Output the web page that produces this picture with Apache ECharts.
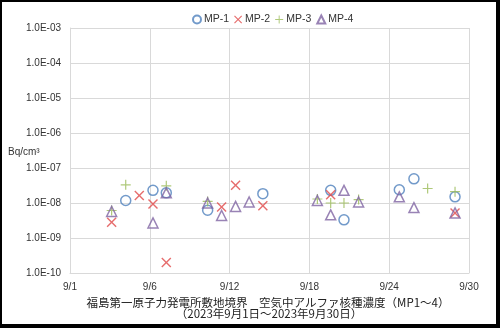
<!DOCTYPE html>
<html>
<head>
<meta charset="utf-8">
<script src="https://cdn.jsdelivr.net/npm/echarts@6/dist/echarts.min.js"></script>
<style>
html,body{margin:0;padding:0;background:#fff;}
#c{width:500px;height:328px;}
</style>
</head>
<body>
<div id="c"></div>
<script>
// x position in days from the axis start (axis start labelled 9/1)
const days = [3.13, 4.19, 5.21, 6.24, 7.24, 10.35, 11.4, 12.45, 13.47, 14.5, 18.6, 19.6, 20.6, 21.7, 24.76, 25.86, 26.89, 28.95];
const mp1 = [null, 1.18e-8, null, 2.3e-8, 1.95e-8, 6.2e-9, null, null, null, 1.85e-8, null, 2.3e-8, 3.3e-9, null, 2.4e-8, 4.9e-8, null, 1.5e-8];
const mp2 = [2.8e-9, null, 1.65e-8, 9.3e-9, 2.0e-10, null, 7.7e-9, 3.2e-8, null, 8.3e-9, null, 1.73e-8, null, null, null, null, null, 5.2e-9];
const mp3 = [6.1e-9, 3.3e-8, null, null, 3.1e-8, 1.11e-8, null, null, null, null, 1.3e-8, 1.0e-8, 1.0e-8, 1.25e-8, null, null, 2.6e-8, 2.1e-8];
const mp4 = [5.75e-9, null, null, 2.7e-9, 1.95e-8, 1.0e-8, 4.4e-9, 8.0e-9, 1.07e-8, null, 1.18e-8, 4.6e-9, 2.3e-8, 1.07e-8, 1.5e-8, 7.4e-9, null, 5.2e-9];
const seriesNames = ['MP-1', 'MP-2', 'MP-3', 'MP-4'];
const xTickLabels = ['9/1', '9/6', '9/12', '9/18', '9/24', '9/30'];
const yTickLabels = ['1.0E-10', '1.0E-09', '1.0E-08', '1.0E-07', '1.0E-06', '1.0E-05', '1.0E-04', '1.0E-03'];
const yUnit = 'Bq/cm³';
const title1 = '福島第一原子力発電所敷地境界\u3000空気中アルファ核種濃度（MP1～4）';
const title2 = '（2023年9月1日～2023年9月30日）';

const pts = arr => days.map((d, i) => arr[i] == null ? null : [d, arr[i]]).filter(p => p);

const colors = ['#4F81BD', '#E04848', '#9BBB59', '#8064A2'];
const X_PATH = 'path://M0,1L1,0L5,4L9,0L10,1L6,5L10,9L9,10L5,6L1,10L0,9L4,5Z';
const PLUS_PATH = 'path://M4.4,0H5.6V4.4H10V5.6H5.6V10H4.4V5.6H0V4.4H4.4Z';

const seriesDefs = [
  {data: mp1, symbol: 'circle', size: 10, hollow: true},
  {data: mp2, symbol: X_PATH, size: 10, hollow: false},
  {data: mp3, symbol: PLUS_PATH, size: 10, hollow: false},
  {data: mp4, symbol: 'triangle', size: 10, hollow: true}
];

const chart = echarts.init(document.getElementById('c'), null, {renderer: 'canvas'});
chart.setOption({
  backgroundColor: '#fff',
  animation: false,
  textStyle: {fontFamily: 'Liberation Sans, DejaVu Sans, sans-serif'},
  legend: {
    top: 9, left: 187,
    itemWidth: 8, itemHeight: 8, itemGap: 5,
    textStyle: {fontSize: 10.5, color: '#333', padding: [0, 0, 0, -2]},
    data: seriesNames
  },
  grid: {left: 70, right: 31, top: 28, bottom: 55},
  xAxis: {
    type: 'value', min: 0, max: 30, interval: 6,
    axisLine: {show: true, lineStyle: {color: '#d9d9d9'}},
    axisTick: {show: false},
    splitLine: {show: true, lineStyle: {color: '#d9d9d9', width: 1}},
    axisLabel: {fontSize: 10, color: '#333', margin: 9,
      formatter: v => xTickLabels[Math.round(v / 6)] || ''}
  },
  yAxis: {
    type: 'log', logBase: 10, min: 1e-10, max: 1e-3,
    axisLine: {show: true, lineStyle: {color: '#d9d9d9'}},
    axisTick: {show: false},
    splitLine: {show: true, lineStyle: {color: '#d9d9d9', width: 1}},
    minorSplitLine: {show: false},
    axisLabel: {fontSize: 10, color: '#333', margin: 9,
      formatter: v => yTickLabels[Math.round(Math.log10(v)) + 10] || ''}
  },
  series: seriesDefs.map((s, i) => ({
    name: seriesNames[i],
    type: 'scatter',
    symbol: s.symbol,
    symbolSize: s.size,
    data: pts(s.data),
    itemStyle: s.hollow
      ? {color: 'rgba(255,255,255,0)', borderColor: colors[i], borderWidth: 1.5}
      : {color: colors[i]},
    emphasis: {disabled: true}
  })),
  graphic: [
    {type: 'text', left: 8, top: 147, style: {text: yUnit, fontSize: 10, fill: '#333', fontFamily: 'Liberation Sans, DejaVu Sans, sans-serif'}},
    {type: 'text', x: 268, y: 296.5, style: {text: title1, textAlign: 'center', fontSize: 11.5, fill: '#222', fontFamily: 'Noto Sans CJK JP'}},
    {type: 'text', x: 269, y: 308, style: {text: title2, textAlign: 'center', fontSize: 11.5, fill: '#222', fontFamily: 'Noto Sans CJK JP'}},
    {type: 'rect', shape: {x: 0, y: 0, width: 500, height: 2}, style: {fill: '#000'}, z: 100},
    {type: 'rect', shape: {x: 0, y: 0, width: 2, height: 328}, style: {fill: '#000'}, z: 100},
    {type: 'rect', shape: {x: 496, y: 0, width: 4, height: 328}, style: {fill: '#000'}, z: 100},
    {type: 'rect', shape: {x: 0, y: 324, width: 500, height: 4}, style: {fill: '#000'}, z: 100}
  ]
});
</script>
</body>
</html>
